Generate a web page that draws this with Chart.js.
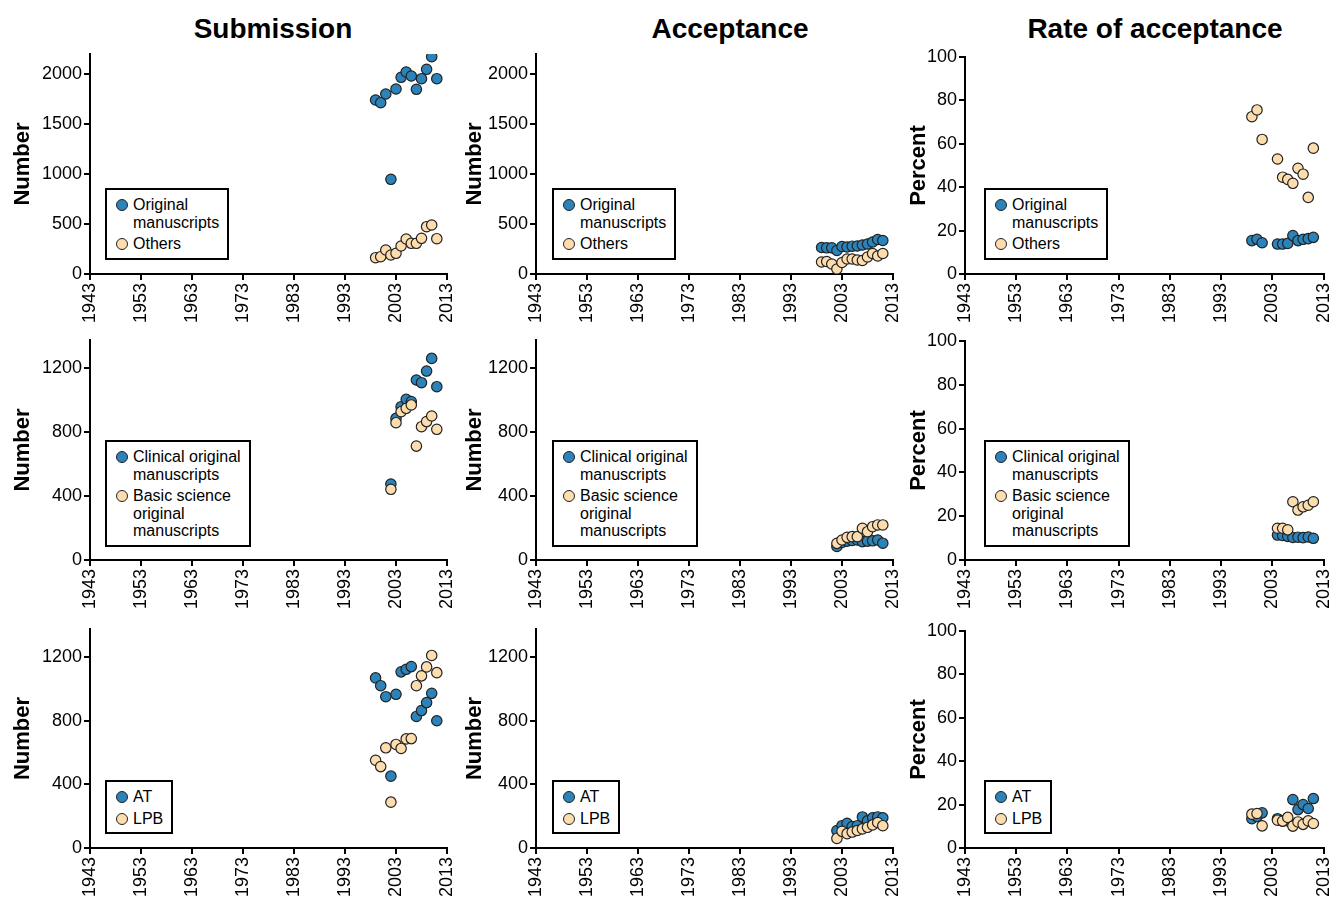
<!DOCTYPE html>
<html>
<head>
<meta charset="utf-8">
<script src="https://cdn.jsdelivr.net/npm/chart.js@4.4.1/dist/chart.umd.min.js"></script>
<style>
  body { margin: 0; width: 1330px; height: 902px; overflow: hidden; background: #fff; position: relative;
         font-family: 'Liberation Sans', Arial, Helvetica, sans-serif; color: #000; }
  canvas { position: absolute; }
  .coltitle { position: absolute; top: 15px; width: 400px; text-align: center; font-weight: bold; font-size: 28px; line-height: 28px; }
  .legend { position: absolute; border: 2px solid #000; background: #fff; font-size: 16px; line-height: 17.5px; padding: 6px 8px 5px 8px; white-space: nowrap; }
  .item { position: relative; padding-left: 18px; }
  .item + .item { margin-top: 4px; }
  .dot { position: absolute; left: 1px; top: 3px; width: 10px; height: 10px; border-radius: 50%; border: 1.2px solid #222; box-sizing: content-box; }
</style>
</head>
<body>

<div class="coltitle" style="left:73px">Submission</div>
<div class="coltitle" style="left:530px">Acceptance</div>
<div class="coltitle" style="left:955px">Rate of acceptance</div>

<canvas id="sub1" width="460" height="290" style="left:0px;top:40px"></canvas>
<canvas id="acc1" width="445" height="290" style="left:460px;top:40px"></canvas>
<canvas id="rate1" width="425" height="290" style="left:905px;top:40px"></canvas>
<canvas id="sub2" width="460" height="290" style="left:0px;top:330px"></canvas>
<canvas id="acc2" width="445" height="290" style="left:460px;top:330px"></canvas>
<canvas id="rate2" width="425" height="290" style="left:905px;top:330px"></canvas>
<canvas id="sub3" width="460" height="282" style="left:0px;top:620px"></canvas>
<canvas id="acc3" width="445" height="282" style="left:460px;top:620px"></canvas>
<canvas id="rate3" width="425" height="282" style="left:905px;top:620px"></canvas>

<div id="legends"></div>

<script>
// ---- data ----
const xTickValues = [1943, 1953, 1963, 1973, 1983, 1993, 2003, 2013];
const countTicksTop = [0, 500, 1000, 1500, 2000];
const countTicks = [0, 400, 800, 1200];
const rateTicks = [0, 20, 40, 60, 80, 100];

// row 1: original manuscripts / others
const years1 = [1999, 2000, 2001, 2002, 2003, 2004, 2005, 2006, 2007, 2008, 2009, 2010, 2011];
const subOriginal = [1740, 1713, 1800, 947, 1850, 1967, 2020, 1980, 1847, 1953, 2047, 2173, 1953];
const subOthers = [163, 173, 240, 190, 207, 280, 350, 307, 307, 357, 473, 490, 353];
const accOriginal = [265, 262, 262, 235, 275, 270, 278, 280, 290, 300, 320, 345, 335];
const accOthers = [120, 125, 100, 50, 115, 150, 150, 140, 135, 170, 205, 180, 205];
const rateYears1 = [1999, 2000, 2001, 2004, 2005, 2006, 2007, 2008, 2009, 2010, 2011];
const rateOriginal = [15.4, 16, 14.4, 13.8, 13.8, 14.1, 17.7, 15.4, 16, 16.3, 16.9];
const rateOthers = [72.5, 75.6, 62, 53, 44.6, 43.6, 41.8, 48.7, 46, 35.3, 58];

// row 2: clinical / basic science original manuscripts
const years2 = [2002, 2003, 2004, 2005, 2006, 2007, 2008, 2009, 2010, 2011];
const subClinical = [475, 885, 958, 1004, 990, 1125, 1108, 1181, 1260, 1083];
const subBasic = [442, 858, 927, 948, 969, 712, 833, 865, 900, 817];
const accClinical = [85, 110, 118, 122, 125, 115, 118, 120, 125, 105];
const accBasic = [104, 125, 142, 146, 146, 198, 177, 208, 219, 219];
const rateYears2 = [2004, 2005, 2006, 2007, 2008, 2009, 2010, 2011];
const rateClinical = [11.4, 11.2, 10.8, 10.3, 10.4, 10.2, 10.5, 9.9];
const rateBasic = [14.5, 14.5, 13.8, 26.6, 22.8, 24.3, 25, 26.6];

// row 3: AT / LPB
const years3 = [1999, 2000, 2001, 2002, 2003, 2004, 2005, 2006, 2007, 2008, 2009, 2010, 2011];
const subAT = [1068, 1019, 950, 451, 965, 1106, 1122, 1139, 826, 863, 913, 971, 799];
const subLPB = [551, 511, 629, 288, 650, 625, 685, 687, 1019, 1081, 1137, 1209, 1101];
const accYears3 = [2002, 2003, 2004, 2005, 2006, 2007, 2008, 2009, 2010, 2011];
const accAT = [110, 140, 155, 135, 140, 195, 170, 190, 195, 190];
const accLPB = [60, 105, 90, 100, 110, 120, 130, 145, 160, 140];
const rateYears3 = [1999, 2000, 2001, 2004, 2005, 2006, 2007, 2008, 2009, 2010, 2011];
const rateAT = [13.5, 14.5, 16.2, 13.5, 12.5, 12.5, 22.3, 17.7, 20, 18.2, 22.8];
const rateLPB = [15.6, 15.9, 10.2, 12.8, 12.4, 14.1, 10.1, 12, 10.9, 12.5, 11.3];

const legendLabels1 = ['Original\nmanuscripts', 'Others'];
const legendLabels2 = ['Clinical original\nmanuscripts', 'Basic science\noriginal\nmanuscripts'];
const legendLabels3 = ['AT', 'LPB'];

const blue = '#2b83ba';
const tan = '#fddcae';
const fontFamily = "'Liberation Sans', Arial, Helvetica, sans-serif";

function toPoints(xs, ys) {
    return xs.map((x, i) => ({ x: x, y: ys[i] }));
}

// one scatter panel
function makePanel(id, c) {
    const ctx = document.getElementById(id).getContext('2d');
    return new Chart(ctx, {
        type: 'scatter',
        data: {
            datasets: [
                { label: c.labels[0], data: toPoints(c.x1, c.y1), backgroundColor: blue, order: 2 },
                { label: c.labels[1], data: toPoints(c.x2, c.y2), backgroundColor: tan, order: 1 }
            ]
        },
        options: {
            responsive: false,
            animation: false,
            events: [],
            layout: { padding: { top: c.padTop, right: c.padRight, left: 0, bottom: 0 } },
            plugins: { legend: { display: false }, tooltip: { enabled: false } },
            elements: { point: { radius: 5.2, borderWidth: 1.2, borderColor: '#222', pointStyle: 'circle' } },
            scales: {
                x: {
                    type: 'linear', min: 1943, max: 2013,
                    afterBuildTicks: s => { s.ticks = xTickValues.map(v => ({ value: v })); },
                    afterFit: s => { s.height = c.xHeight; s.paddingLeft = 0; s.paddingRight = 0; },
                    ticks: { minRotation: 90, maxRotation: 90, autoSkip: false, padding: 3, color: '#000',
                             font: { family: fontFamily, size: 18 }, callback: v => String(v) },
                    grid: { drawOnChartArea: false, drawTicks: true, tickLength: 6, color: '#000', lineWidth: 2 },
                    border: { display: true, color: '#000', width: 2 }
                },
                y: {
                    type: 'linear', min: 0, max: c.yMax,
                    afterBuildTicks: s => { s.ticks = c.yTicks.map(v => ({ value: v })); },
                    afterFit: s => { s.width = c.yWidth; s.paddingTop = 0; s.paddingBottom = 0; },
                    ticks: { padding: 2, color: '#000', font: { family: fontFamily, size: 18 }, callback: v => String(v) },
                    grid: { drawOnChartArea: false, drawTicks: true, tickLength: 6, color: '#000', lineWidth: 2 },
                    border: { display: true, color: '#000', width: 2 },
                    title: { display: true, text: c.yTitle, color: '#000', padding: { top: c.titlePad, bottom: 0 },
                             font: { family: fontFamily, size: 22, weight: 'bold' } }
                }
            }
        }
    });
}

const col1 = { yWidth: 90, padRight: 13, titlePad: 9.3 };
const col2 = { yWidth: 76, padRight: 12, titlePad: 1.3 };
const col3 = { yWidth: 60, padRight: 6, titlePad: 0.3 };

makePanel('sub1', Object.assign({}, col1, { padTop: 14, xHeight: 56, yMax: 2200, yTicks: countTicksTop, yTitle: 'Number',
    labels: legendLabels1, x1: years1, y1: subOriginal, x2: years1, y2: subOthers }));
makePanel('acc1', Object.assign({}, col2, { padTop: 14, xHeight: 56, yMax: 2200, yTicks: countTicksTop, yTitle: 'Number',
    labels: legendLabels1, x1: years1, y1: accOriginal, x2: years1, y2: accOthers }));
makePanel('rate1', Object.assign({}, col3, { padTop: 17, xHeight: 56, yMax: 100, yTicks: rateTicks, yTitle: 'Percent',
    labels: legendLabels1, x1: rateYears1, y1: rateOriginal, x2: rateYears1, y2: rateOthers }));

makePanel('sub2', Object.assign({}, col1, { padTop: 10, xHeight: 60, yMax: 1375, yTicks: countTicks, yTitle: 'Number',
    labels: legendLabels2, x1: years2, y1: subClinical, x2: years2, y2: subBasic }));
makePanel('acc2', Object.assign({}, col2, { padTop: 10, xHeight: 60, yMax: 1375, yTicks: countTicks, yTitle: 'Number',
    labels: legendLabels2, x1: years2, y1: accClinical, x2: years2, y2: accBasic }));
makePanel('rate2', Object.assign({}, col3, { padTop: 11, xHeight: 60, yMax: 100, yTicks: rateTicks, yTitle: 'Percent',
    labels: legendLabels2, x1: rateYears2, y1: rateClinical, x2: rateYears2, y2: rateBasic }));

makePanel('sub3', Object.assign({}, col1, { padTop: 9, xHeight: 54, yMax: 1375, yTicks: countTicks, yTitle: 'Number',
    labels: legendLabels3, x1: years3, y1: subAT, x2: years3, y2: subLPB }));
makePanel('acc3', Object.assign({}, col2, { padTop: 9, xHeight: 54, yMax: 1375, yTicks: countTicks, yTitle: 'Number',
    labels: legendLabels3, x1: accYears3, y1: accAT, x2: accYears3, y2: accLPB }));
makePanel('rate3', Object.assign({}, col3, { padTop: 11, xHeight: 54, yMax: 100, yTicks: rateTicks, yTitle: 'Percent',
    labels: legendLabels3, x1: rateYears3, y1: rateAT, x2: rateYears3, y2: rateLPB }));

// html legends, boxed inside each panel
function addLegend(left, top, labels) {
    const box = document.createElement('div');
    box.className = 'legend';
    box.style.left = left + 'px';
    box.style.top = top + 'px';
    [blue, tan].forEach((col, i) => {
        const item = document.createElement('div');
        item.className = 'item';
        const dot = document.createElement('span');
        dot.className = 'dot';
        dot.style.background = col;
        item.appendChild(dot);
        labels[i].split('\n').forEach((line, j) => {
            if (j > 0) item.appendChild(document.createElement('br'));
            item.appendChild(document.createTextNode(line));
        });
        box.appendChild(item);
    });
    document.getElementById('legends').appendChild(box);
}

[105, 552, 984].forEach(x => {
    addLegend(x, 188, legendLabels1);
    addLegend(x, 440, legendLabels2);
    addLegend(x, 780, legendLabels3);
});
</script>
</body>
</html>
